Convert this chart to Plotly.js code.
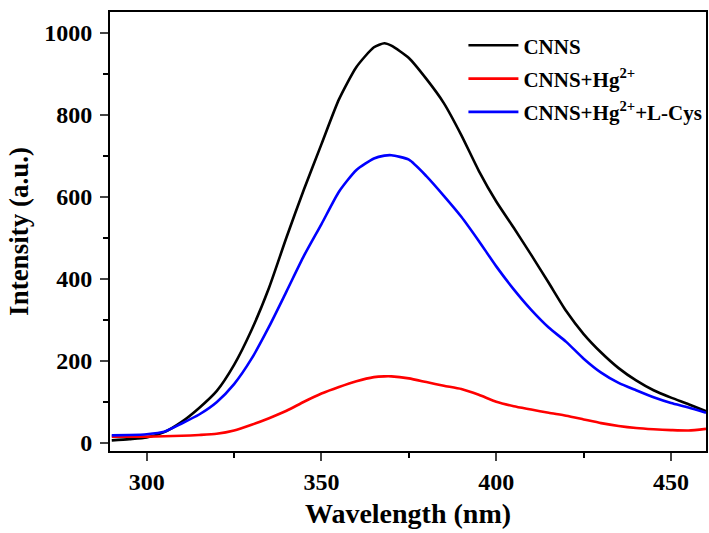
<!DOCTYPE html>
<html>
<head>
<meta charset="utf-8">
<script src="https://cdn.plot.ly/plotly-3.0.1.min.js"></script>
<style>html,body{margin:0;padding:0;background:#fff;}#chart{width:709px;height:533px;}</style>
</head>
<body>
<div id="chart"></div>
<script>
const wavelength = [290,295,300,305,310,315,320,325,330,335,340,345,350,355,360,365,368,370,375,380,385,390,395,400,405,410,415,420,425,430,435,440,445,450,455,460];
const cnns = [6,9,13,26,51,85,126,190,275,378,501,618,728,837,916,964,974,968,938,887,828,750,663,588,524,458,390,321,265,220,182,152,128,110,94,77];
const cnnsHg = [15,15,15,16,17,19,22,30,44,60,78,100,120,136,150,160,162,162,157,148,139,131,117,100,89,81,73,66,57,48,41,36,33,31,30,34];
const cnnsHgCys = [18,19,21,27,47,69,99,143,205,283,369,456,533,612,665,693,700,701,690,650,602,551,492,430,374,324,281,246,205,171,146,128,111,97,86,73];

const seriesNames = ['CNNS', 'CNNS+Hg<sup>2+</sup>', 'CNNS+Hg<sup>2+</sup>+L-Cys'];
const seriesColors = ['#000000', '#ff0000', '#0000ff'];
const seriesValues = [cnns, cnnsHg, cnnsHgCys];

const traces = seriesValues.map((vals, i) => ({
  x: wavelength, y: vals, type: 'scatter', mode: 'lines',
  name: seriesNames[i], legendgroup: 'g' + i,
  line: {color: seriesColors[i], width: 2.6, shape: 'spline', smoothing: 0.6}
}));

const font = {family: '"Liberation Serif", "Times New Roman", serif', color: '#000'};
const layout = {
  width: 709, height: 533,
  margin: {l: 110, r: 2, t: 12, b: 82},
  paper_bgcolor: '#fff', plot_bgcolor: '#fff',
  showlegend: true,
  legend: {x: 0.592, y: 0.97, xanchor: 'left', yanchor: 'top', bgcolor: 'rgba(0,0,0,0)',
    font: Object.assign({}, font, {size: 21, weight: 'bold'}), traceorder: 'grouped', tracegroupgap: 3, itemwidth: 50},
  xaxis: {
    range: [289.5, 460], tickvals: [300, 350, 400, 450], ticks: 'outside', ticklen: 8, tickwidth: 2,
    showline: true, linewidth: 2, linecolor: '#000', mirror: true, showgrid: false, zeroline: false,
    minor: {tickvals: [325, 375, 425], ticks: 'outside', ticklen: 5, tickwidth: 2, tickcolor: '#000', showgrid: false},
    tickfont: Object.assign({}, font, {size: 24, weight: 'bold'}),
    title: {text: 'Wavelength (nm)', font: Object.assign({}, font, {size: 28, weight: 'bold'}), standoff: 10}
  },
  yaxis: {
    range: [-20, 1050], tickvals: [0, 200, 400, 600, 800, 1000], ticks: 'outside', ticklen: 8, tickwidth: 2,
    showline: true, linewidth: 2, linecolor: '#000', mirror: true, showgrid: false, zeroline: false,
    minor: {tickvals: [100, 300, 500, 700, 900], ticks: 'outside', ticklen: 5, tickwidth: 2, tickcolor: '#000', showgrid: false},
    tickfont: Object.assign({}, font, {size: 24, weight: 'bold'}), ticklabelstandoff: 3,
    title: {text: 'Intensity (a.u.)', font: Object.assign({}, font, {size: 27, weight: 'bold'}), standoff: 8}
  }
};
Plotly.newPlot('chart', traces, layout, {displayModeBar: false, staticPlot: true});
</script>
</body>
</html>
